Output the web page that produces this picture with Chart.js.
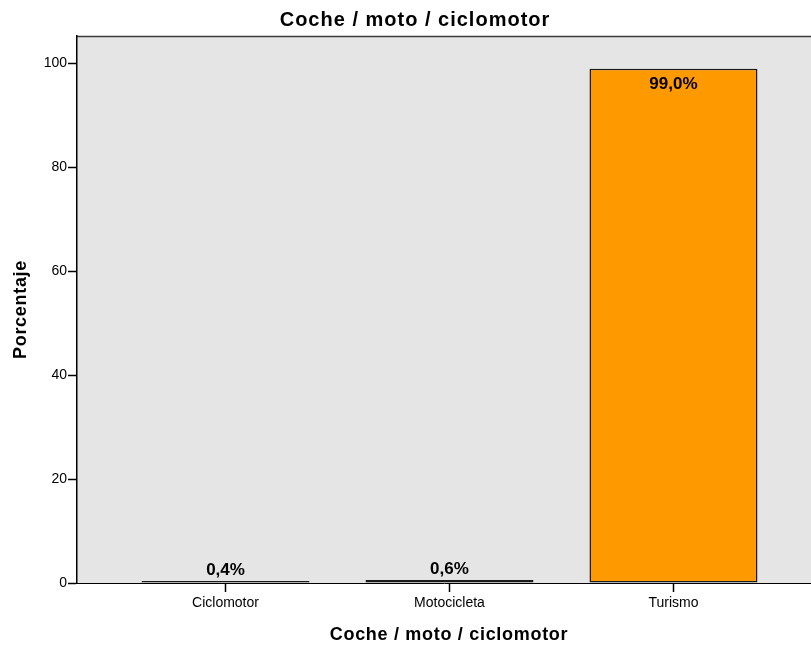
<!DOCTYPE html>
<html>
<head>
<meta charset="utf-8">
<script src="https://cdn.jsdelivr.net/npm/chart.js@4"></script>
<style>
    html, body { margin: 0; padding: 0; background: #fff; overflow: hidden; }
    #chart { display: block; }
</style>
</head>
<body>
<canvas id="chart" width="811" height="646"></canvas>
<script>
// Datos del gráfico
const chartTitle = 'Coche / moto / ciclomotor';
const xTitle = 'Coche / moto / ciclomotor';
const yTitle = 'Porcentaje';
const categories = ['Ciclomotor', 'Motocicleta', 'Turismo'];
const percentages = [0.4, 0.6, 99.0];
const yTicks = [0, 20, 40, 60, 80, 100];

const FONT = '"Liberation Sans", Arial, sans-serif';

function formatPct(v) {
    return v.toFixed(1).replace('.', ',') + '%';
}

// Fondo gris del área de trazado y borde superior
const plotBackground = {
    id: 'plotBackground',
    beforeDraw(chart) {
        const { ctx, chartArea: a } = chart;
        ctx.save();
        ctx.fillStyle = '#e5e5e5';
        ctx.fillRect(a.left, a.top, a.right - a.left, a.bottom - a.top);
        ctx.strokeStyle = '#3a3a3a';
        ctx.lineWidth = 1.5;
        ctx.beginPath();
        ctx.moveTo(a.left, a.top + 0.5);
        ctx.lineTo(a.right, a.top + 0.5);
        ctx.stroke();
        ctx.restore();
    }
};

// Etiquetas de valor sobre / dentro de cada barra
const valueLabels = {
    id: 'valueLabels',
    afterDatasetsDraw(chart) {
        const { ctx } = chart;
        const meta = chart.getDatasetMeta(0);
        ctx.save();
        ctx.font = 'bold 17px ' + FONT;
        ctx.fillStyle = '#000';
        ctx.textAlign = 'center';
        ctx.textBaseline = 'alphabetic';
        meta.data.forEach((bar, i) => {
            const h = bar.base - bar.y;
            const txt = formatPct(percentages[i]);
            if (h > 40) {
                ctx.fillText(txt, bar.x, bar.y + 20);
            } else {
                ctx.fillText(txt, bar.x, bar.y - 6);
            }
        });
        ctx.restore();
    }
};

// Títulos (principal y de ejes)
const titles = {
    id: 'titles',
    afterDraw(chart) {
        const { ctx, chartArea: a } = chart;
        ctx.save();
        ctx.fillStyle = '#000';
        ctx.textAlign = 'center';
        ctx.textBaseline = 'alphabetic';

        ctx.letterSpacing = '1px';
        ctx.font = 'bold 20px ' + FONT;
        ctx.fillText(chartTitle, 415, 26);

        ctx.letterSpacing = '0.7px';
        ctx.font = 'bold 18px ' + FONT;
        ctx.fillText(xTitle, 449, 640);

        ctx.translate(26, (a.top + a.bottom) / 2);
        ctx.rotate(-Math.PI / 2);
        ctx.fillText(yTitle, 0, 0);
        ctx.restore();
    }
};

const ctx = document.getElementById('chart');
new Chart(ctx, {
    type: 'bar',
    data: {
        datasets: [{
            label: yTitle,
            data: categories.map((c, i) => ({ x: i, y: percentages[i] })),
            backgroundColor: '#ff9900',
            borderColor: '#1a1a1a',
            borderWidth: 1.5,
            borderSkipped: false,
            barPercentage: 0.75,
            categoryPercentage: 1
        }]
    },
    options: {
        responsive: false,
        animation: false,
        layout: { padding: { top: 36, right: 0, left: 0, bottom: 0 } },
        plugins: {
            legend: { display: false },
            tooltip: { enabled: false },
            title: { display: false }
        },
        scales: {
            x: {
                type: 'linear',
                offset: false,
                min: -0.663,
                max: 2.614,
                afterBuildTicks: s => { s.ticks = categories.map((c, i) => ({ value: i })); },
                afterFit: s => { s.height = 63; },
                ticks: {
                    callback: v => categories[v] || '',
                    color: '#000',
                    font: { family: FONT, size: 14 },
                    padding: 3,
                    maxRotation: 0,
                    autoSkip: false
                },
                grid: { offset: false, drawOnChartArea: false, drawTicks: true, tickLength: 9, tickColor: '#000', tickWidth: 1.5, color: '#000' },
                border: { display: true, color: '#000', width: 1 }
            },
            y: {
                min: 0,
                max: 105.3,
                afterBuildTicks: s => { s.ticks = yTicks.map(v => ({ value: v })); },
                afterFit: s => { s.width = 77; },
                ticks: {
                    color: '#000',
                    font: { family: FONT, size: 14 },
                    padding: 1
                },
                grid: { drawOnChartArea: false, drawTicks: true, tickLength: 9, tickColor: '#000', tickWidth: 1.5, color: '#000' },
                border: { display: true, color: '#000', width: 1.5 }
            }
        }
    },
    plugins: [plotBackground, valueLabels, titles]
});
</script>
</body>
</html>
